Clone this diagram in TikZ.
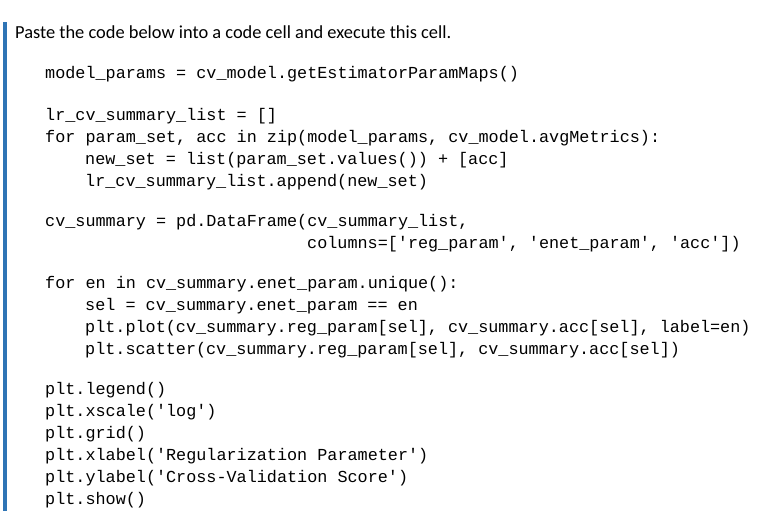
\documentclass[tikz,border=0pt]{standalone}
\usepackage{fontspec}
\setmainfont{Carlito}
\setmonofont{Liberation Mono}
\definecolor{barblue}{HTML}{2E74B5}
\begin{document}
\begin{tikzpicture}[x=1pt,y=-1pt,
  code/.style={anchor=base west,inner sep=0pt,font=\fontsize{16.8}{18}\ttfamily},
  txt/.style={anchor=base west,inner sep=0pt,font=\fontsize{18.4}{20}\selectfont}]
\useasboundingbox[fill=white] (0,0) rectangle (773,527);
\fill[barblue] (3,22) rectangle (7,511);
\node[txt] (h) at (15,38) {Paste the code below into a code cell and execute this cell.};
\node[code] (l1) at (45,78) {model\_params = cv\_model.getEstimatorParamMaps()};
\node[code] (l2) at (45,120) {lr\_cv\_summary\_list = []};
\node[code] (l3) at (45,142) {for param\_set, acc in zip(model\_params, cv\_model.avgMetrics):};
\node[code] (l4) at (85,164) {new\_set = list(param\_set.values()) + [acc]};
\node[code] (l5) at (85,186) {lr\_cv\_summary\_list.append(new\_set)};
\node[code] (l6) at (45,226) {cv\_summary = pd.DataFrame(cv\_summary\_list,};
\node[code] (l7) at (307,248) {columns=['reg\_param', 'enet\_param', 'acc'])};
\node[code] (l8) at (45,288) {for en in cv\_summary.enet\_param.unique():};
\node[code] (l9) at (85,310) {sel = cv\_summary.enet\_param == en};
\node[code] (l10) at (85,332) {plt.plot(cv\_summary.reg\_param[sel], cv\_summary.acc[sel], label=en)};
\node[code] (l11) at (85,354) {plt.scatter(cv\_summary.reg\_param[sel], cv\_summary.acc[sel])};
\node[code] (l12) at (45,394) {plt.legend()};
\node[code] (l13) at (45,416) {plt.xscale('log')};
\node[code] (l14) at (45,438) {plt.grid()};
\node[code] (l15) at (45,460) {plt.xlabel('Regularization Parameter')};
\node[code] (l16) at (45,482) {plt.ylabel('Cross-Validation Score')};
\node[code] (l17) at (45,504) {plt.show()};
\end{tikzpicture}
\end{document}
